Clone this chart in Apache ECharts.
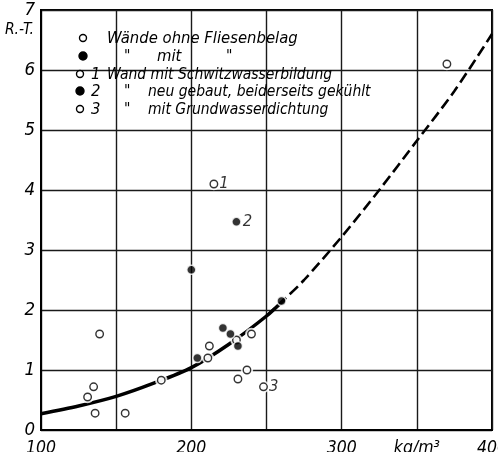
<!DOCTYPE html>
<html>
<head>
<meta charset="utf-8">
<script src="https://cdn.jsdelivr.net/npm/echarts@6/dist/echarts.min.js"></script>
<style>
html,body{margin:0;padding:0;background:#fff;}
#chart{width:498px;height:452px;}
</style>
</head>
<body>
<div id="chart"></div>
<script>
// X tick values / labels
var xTicks = [100, 150, 200, 250, 300, 350, 400];
var xTickLabels = ['100', '', '200', '', '300', 'kg/m³', '400'];
var yTicks = [0, 1, 2, 3, 4, 5, 6, 7];

// Open circles: walls without tiles (+ numbered 1, 3)
var openX = [215, 248, 370, 139, 135, 131, 136, 156, 180, 211, 212, 230, 240, 237, 231];
var openY = [4.1, 0.72, 6.1, 1.6, 0.72, 0.55, 0.28, 0.28, 0.83, 1.2, 1.4, 1.5, 1.6, 1.0, 0.85];
var openTag = ['1', '3', '', '', '', '', '', '', '', '', '', '', '', '', ''];

// Filled circles: walls with tiles (+ numbered 2)
var filledX = [230, 200, 260, 221, 226, 231, 204];
var filledY = [3.47, 2.67, 2.15, 1.7, 1.6, 1.4, 1.2];
var filledTag = ['2', '', '', '', '', '', ''];

// Fitted curve: solid part and dashed extrapolation (dashed part re-uses the last solid points)
var curveSolidX = [100, 125, 150, 175, 200, 225, 250, 262];
var curveSolidY = [0.27, 0.4, 0.56, 0.78, 1.04, 1.43, 1.9, 2.18];
var curveDashX = [250, 262, 275, 300, 325, 350, 375, 400];
var curveDashY = [1.9, 2.18, 2.5, 3.22, 4.0, 4.82, 5.65, 6.6];

// Legend texts
var legendRows = [
  {filled: false, num: '', quote: '', text: 'Wände ohne Fliesenbelag'},
  {filled: true, num: '', quote: '"', text: 'mit', quote2: '"'},
  {filled: false, num: '1', quote: '', text: 'Wand mit Schwitzwasserbildung'},
  {filled: true, num: '2', quote: '"', text: 'neu gebaut, beiderseits gekühlt'},
  {filled: false, num: '3', quote: '"', text: 'mit Grundwasserdichtung'}
];

var FONT = "'DejaVu Sans Condensed', 'Liberation Sans Narrow', 'DejaVu Sans', sans-serif";

function zip(xs, ys, tags) {
  return xs.map(function (x, i) { return [x, ys[i], tags ? tags[i] : '']; });
}

var chart = echarts.init(document.getElementById('chart'), null, {renderer: 'canvas'});

var rowY = [39, 57, 75, 92, 110];
var rowSize = [16.5, 16.5, 15.5, 15.5, 15.5];
var graphics = [];
legendRows.forEach(function (r, i) {
  var cx = i < 2 ? 83 : 80;
  graphics.push({
    type: 'circle', shape: {cx: cx, cy: rowY[i] - 1, r: r.filled ? 4 : 3.5},
    style: {fill: r.filled ? '#000' : '#fff', stroke: '#000', lineWidth: 1.4}, z: 100
  });
  if (r.num) {
    graphics.push({type: 'text', x: 91, y: rowY[i], z: 100,
      style: {text: r.num, fontSize: 16.5, fontFamily: FONT, fontStyle: 'italic', fill: '#000', verticalAlign: 'middle'}});
  }
  if (r.quote) {
    graphics.push({type: 'text', x: 124, y: rowY[i], z: 100,
      style: {text: r.quote, fontSize: 15.5, fontFamily: FONT, fontStyle: 'italic', fill: '#000', verticalAlign: 'middle'}});
  }
  if (r.quote2) {
    graphics.push({type: 'text', x: 226, y: rowY[i], z: 100,
      style: {text: r.quote2, fontSize: 15.5, fontFamily: FONT, fontStyle: 'italic', fill: '#000', verticalAlign: 'middle'}});
  }
  var tx = i === 0 || i === 2 ? 107 : (i === 1 ? 157 : 148);
  graphics.push({type: 'text', x: tx, y: rowY[i], z: 100,
    style: {text: r.text, fontSize: rowSize[i], fontFamily: FONT, fontStyle: 'italic', fill: '#000', verticalAlign: 'middle'}});
});
graphics.push({type: 'text', x: 34, y: 30, z: 100,
  style: {text: 'R.-T.', fontSize: 15.5, fontFamily: FONT, fontStyle: 'italic', fill: '#000', align: 'right', verticalAlign: 'middle'}});

var labelStyle = {
  show: true, position: 'right', distance: 1,
  formatter: function (p) { return p.data[2]; },
  fontSize: 16.5, fontFamily: FONT, fontStyle: 'italic', color: '#000'
};

chart.setOption({
  animation: false,
  backgroundColor: '#fff',
  grid: {left: 41, right: 6, top: 10, bottom: 22, containLabel: false, outerBoundsMode: 'none',
    show: true, borderColor: '#000', borderWidth: 2, backgroundColor: 'transparent'},
  xAxis: {
    type: 'value', min: 100, max: 400, interval: 50,
    axisLine: {show: true, lineStyle: {color: '#000', width: 2}},
    axisTick: {show: false},
    splitLine: {show: true, lineStyle: {color: '#1a1a1a', width: 1.4}},
    axisLabel: {
      show: true, margin: 9, color: '#000', fontSize: 17.5, fontFamily: FONT, fontStyle: 'italic',
      showMinLabel: true, showMaxLabel: true, hideOverlap: false,
      formatter: function (v) { var i = xTicks.indexOf(v); return i >= 0 ? xTickLabels[i] : ''; }
    }
  },
  yAxis: {
    type: 'value', min: 0, max: 7, interval: 1,
    axisLine: {show: true, lineStyle: {color: '#000', width: 2}},
    axisTick: {show: false},
    splitLine: {show: true, lineStyle: {color: '#1a1a1a', width: 1.4}},
    axisLabel: {
      show: true, margin: 6, color: '#000', fontSize: 18.5, fontFamily: FONT, fontStyle: 'italic',
      formatter: function (v) { return yTicks.indexOf(v) >= 0 ? String(v) : ''; }
    }
  },
  graphic: graphics,
  series: [
    {
      type: 'line', name: 'curve', data: zip(curveSolidX, curveSolidY), smooth: 0.3,
      symbol: 'none', lineStyle: {color: '#000', width: 3.5}, z: 3
    },
    {
      type: 'line', name: 'curve-dashed', data: zip(curveDashX, curveDashY), smooth: 0.3,
      symbol: 'none', lineStyle: {color: '#000', width: 2.6, type: [11, 5]}, z: 2
    },
    {
      type: 'scatter', name: 'ohne', data: zip(openX, openY, openTag), symbol: 'circle', symbolSize: 10,
      itemStyle: {color: '#fff', borderColor: '#fff', borderWidth: 2.5}, z: 4
    },
    {
      type: 'scatter', name: 'ohne-ring', data: zip(openX, openY, openTag), symbol: 'circle', symbolSize: 7.5,
      itemStyle: {color: '#fff', borderColor: '#000', borderWidth: 1.4}, label: labelStyle, z: 5
    },
    {
      type: 'scatter', name: 'mit', data: zip(filledX, filledY, filledTag), symbol: 'circle', symbolSize: 9,
      itemStyle: {color: '#000', borderColor: '#fff', borderWidth: 1.5}, label: labelStyle, z: 5
    }
  ]
});
</script>
</body>
</html>
